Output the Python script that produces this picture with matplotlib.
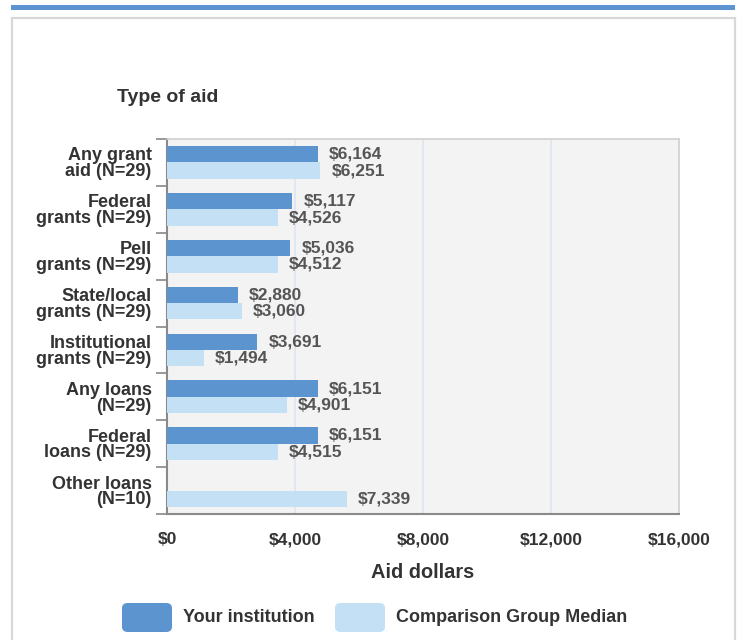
import matplotlib
matplotlib.use("Agg")
import matplotlib.pyplot as plt
from matplotlib.patches import FancyBboxPatch, Rectangle
import numpy as np

plt.rcParams['font.family'] = ['Liberation Sans', 'DejaVu Sans']

# data
categories = ["Any grant\naid (N=29)", "Federal\ngrants (N=29)", "Pell\ngrants (N=29)",
              "State/local\ngrants (N=29)", "Institutional\ngrants (N=29)", "Any loans\n(N=29)",
              "Federal\nloans (N=29)", "Other loans\n(N=10)"]
your_institution = [6164, 5117, 5036, 2880, 3691, 6151, 6151, None]
comparison_median = [6251, 4526, 4512, 3060, 1494, 4901, 4515, 7339]
x_ticks = [0, 4000, 8000, 12000, 16000]
x_tick_labels = ["$0", "$4,000", "$8,000", "$12,000", "$16,000"]

# the reference draws its bars at ~77% of its own axis scale
bar_scale = 0.766

dark = "#5b94cf"
light = "#c3e0f5"
txt = "#333333"
val_col = "#555555"

fig = plt.figure(figsize=(7.39, 6.4), dpi=100)
W, H = 739, 640

# page decoration: blue stripe + card border
fig.patches.append(Rectangle((11 / W, 1 - 10 / H), 724 / W, 5 / H, transform=fig.transFigure,
                             facecolor="#5b94cf", edgecolor="none"))
fig.patches.append(Rectangle((12 / W, -0.05), 723 / W, 1 - 18 / H + 0.05, transform=fig.transFigure,
                             facecolor="none", edgecolor="#d8d8d8", linewidth=1.6))

ax = fig.add_axes([167 / W, 1 - 514 / H, 512 / W, 375 / H])
ax.set_facecolor("#f3f3f3")

y = np.arange(len(categories))
h = 0.35
for i in range(len(categories)):
    v1 = your_institution[i]
    v2 = comparison_median[i]
    if v1 is not None:
        ax.barh(y[i] - h / 2, v1 * bar_scale, height=h, color=dark, zorder=3)
        ax.annotate("${:,}".format(v1), (v1 * bar_scale, y[i] - h / 2), xytext=(8, 0),
                    textcoords="offset points", va="center", ha="left", fontsize=12.5,
                    fontweight="bold", color=val_col, zorder=4)
    ax.barh(y[i] + h / 2, v2 * bar_scale, height=h, color=light, zorder=3)
    ax.annotate("${:,}".format(v2), (v2 * bar_scale, y[i] + h / 2), xytext=(8, 0),
                textcoords="offset points", va="center", ha="left", fontsize=12.5,
                fontweight="bold", color=val_col, zorder=4)

ax.set_xlim(0, 16000)
ax.set_ylim(len(categories) - 0.5, -0.5)

ax.set_xticks(x_ticks)
ax.set_xticklabels(x_tick_labels, fontsize=12.5, fontweight="bold", color=txt)
ax.tick_params(axis="x", length=0, pad=13)
ax.grid(axis="x", color="#dde5ee", linewidth=1.2, zorder=0)

ax.set_yticks(np.arange(len(categories) + 1) - 0.5)
ax.set_yticklabels([])
ax.tick_params(axis="y", which="major", length=8, width=1.2, color="#888888", direction="out")
ax.set_yticks(y, minor=True)
ax.set_yticklabels(categories, minor=True, fontsize=13, fontweight="bold", color=txt,
                   linespacing=0.9, multialignment="right")
ax.tick_params(axis="y", which="minor", length=0, pad=11)

for s in ["top", "right"]:
    ax.spines[s].set_color("#cfcfcf")
    ax.spines[s].set_linewidth(1.2)
ax.spines["bottom"].set_color("#8a8a8a")
ax.spines["bottom"].set_linewidth(1.5)
ax.spines["left"].set_color("#8a8a8a")
ax.spines["left"].set_linewidth(1.5)

fig.text(117 / W, 1 - 98 / H, "Type of aid", fontsize=14, fontweight="bold", color=txt,
         ha="left", va="center")
fig.text(423 / W, 1 - 573 / H, "Aid dollars", fontsize=14.4, fontweight="bold", color=txt,
         ha="center", va="center")

# legend
for x0, col, label in [(122, dark, "Your institution"), (335, light, "Comparison Group Median")]:
    fig.patches.append(FancyBboxPatch((x0 / W, 1 - 632 / H), 50 / W, 29 / H,
                                      boxstyle="round,pad=0,rounding_size=0.008",
                                      transform=fig.transFigure, facecolor=col, edgecolor="none"))
    fig.text((x0 + 61) / W, 1 - 617 / H, label, fontsize=13, fontweight="bold", color=txt,
             ha="left", va="center")

fig.savefig("out.png", dpi=100)
